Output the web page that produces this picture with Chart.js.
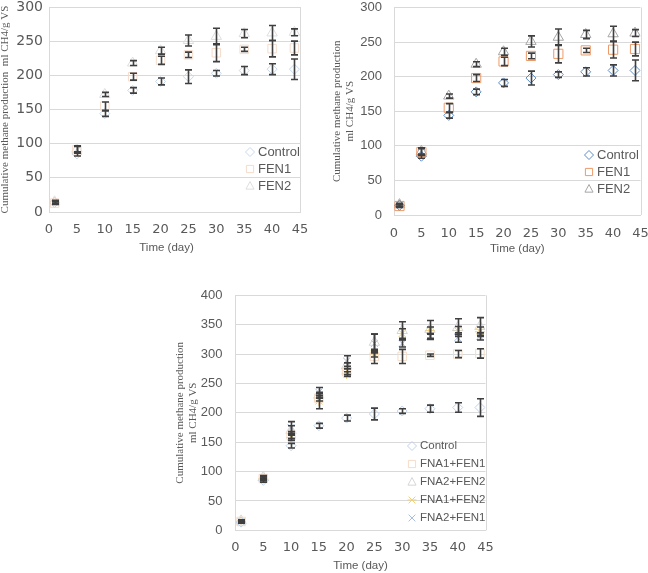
<!DOCTYPE html>
<html><head><meta charset="utf-8">
<script src="https://cdn.jsdelivr.net/npm/chart.js@4.4.0/dist/chart.umd.min.js"></script>
<style>
html,body{margin:0;padding:0;background:#fff;width:648px;height:573px;overflow:hidden;}
canvas{position:absolute;display:block;}
</style></head><body>
<canvas id="c1" width="320" height="262" style="left:0;top:0"></canvas>
<canvas id="c2" width="328" height="262" style="left:320px;top:0"></canvas>
<canvas id="c3" width="330" height="293" style="left:170px;top:280px"></canvas>
<script>
// ---- data ----
const days = [1, 5, 10, 15, 20, 25, 30, 35, 40, 44];
const xTicks = [0, 5, 10, 15, 20, 25, 30, 35, 40, 45];
const yTicksTop = [0, 50, 100, 150, 200, 250, 300];
const yTicksBottom = [0, 50, 100, 150, 200, 250, 300, 350, 400];

const control    = [14, 85, 144, 178, 191, 198, 203, 207, 209, 209];
const controlErr = [2, 3, 4, 4, 5, 10, 4, 6, 8, 15];
const fen1       = [13, 91, 155, 198, 222, 230, 233, 238, 239, 240];
const fen1Err    = [2, 5, 6, 5, 6, 4, 13, 3, 12, 10];
const fen2       = [15, 92, 172, 218, 236, 251, 257, 261, 262, 263];
const fen2Err    = [2, 5, 3, 3.5, 5, 8, 12, 6, 11, 5];

const fna1fen1    = [15, 88, 162, 225, 270, 296, 296, 298, 300, 301];
const fna1fen1Err = [2, 3, 6, 5, 5, 12, 12, 2, 6, 8];
const fna2fen2    = [16, 90, 170, 230, 280, 320, 340, 342, 345, 347];
const fna2fen2Err = [2, 3, 8, 5, 5, 14, 15, 15, 15, 15];
const fna1fen2    = [14, 88, 158, 220, 266, 300, 335, 340, 340, 338];
const fna1fen2Err = [2, 3, 5, 13, 4, 5, 8, 6, 7, 8];
const fna2fen1    = [15, 89, 175, 235, 288, 318, 318, 330, 328, 330];
const fna2fen1Err = [2, 3, 10, 8, 9, 16, 6, 5, 8, 6];

const yTitleOneLine = 'Cumulative methane production  ml CH4/g VS';
const yTitleTwoLines = ['Cumulative methane production', 'ml CH4/g VS'];
const xTitle = 'Time (day)';

// ---- helpers ----
const pts = arr => days.map((d, i) => ({x: d, y: arr[i]}));
function ds(label, arr, err, style, color, r) {
  return {label, data: pts(arr), errors: err, pointStyle: style,
    borderColor: color, backgroundColor: 'rgba(255,255,255,0)', pointRadius: r,
    pointHoverRadius: r, borderWidth: 1, showLine: false};
}

function drawMarker(ctx, style, x, y, r) {
  ctx.beginPath();
  if (style === 'rectRot') {
    ctx.moveTo(x, y - r); ctx.lineTo(x + r, y); ctx.lineTo(x, y + r); ctx.lineTo(x - r, y); ctx.closePath();
  } else if (style === 'rect') {
    const s = r * 0.8; ctx.rect(x - s, y - s, 2 * s, 2 * s);
  } else if (style === 'triangle') {
    ctx.moveTo(x, y - r); ctx.lineTo(x + r * 0.9, y + r * 0.7); ctx.lineTo(x - r * 0.9, y + r * 0.7); ctx.closePath();
  } else if (style === 'crossRot') {
    const s = r * 0.75;
    ctx.moveTo(x - s, y - s); ctx.lineTo(x + s, y + s); ctx.moveTo(x + s, y - s); ctx.lineTo(x - s, y + s);
  } else if (style === 'star') {
    const s = r * 0.75;
    ctx.moveTo(x - s, y - s); ctx.lineTo(x + s, y + s); ctx.moveTo(x + s, y - s); ctx.lineTo(x - s, y + s);
    ctx.moveTo(x - r, y); ctx.lineTo(x + r, y);
  }
  ctx.stroke();
}

const errorBars = {
  id: 'errorBars',
  afterDatasetsDraw(chart) {
    const ctx = chart.ctx, xs = chart.scales.x, ys = chart.scales.y;
    ctx.save();
    ctx.strokeStyle = '#3f3f3f'; ctx.lineWidth = 1.6;
    chart.data.datasets.forEach(d => {
      (d.errors || []).forEach((e, i) => {
        const p = d.data[i];
        const x = Math.round(xs.getPixelForValue(p.x)) + 0.5;
        const y1 = ys.getPixelForValue(p.y + e), y2 = ys.getPixelForValue(p.y - e);
        ctx.beginPath();
        ctx.moveTo(x, y1); ctx.lineTo(x, y2);
        ctx.moveTo(x - 3.5, y1); ctx.lineTo(x + 3.5, y1);
        ctx.moveTo(x - 3.5, y2); ctx.lineTo(x + 3.5, y2);
        ctx.stroke();
      });
    });
    ctx.restore();
  }
};

const frame = {
  id: 'frame',
  beforeDatasetsDraw(chart) {
    const a = chart.chartArea, ctx = chart.ctx;
    ctx.save(); ctx.strokeStyle = '#d9d9d9'; ctx.lineWidth = 1;
    ctx.beginPath();
    const xr = Math.round(a.right) + 0.5;
    ctx.moveTo(xr, a.top); ctx.lineTo(xr, a.bottom);
    ctx.stroke(); ctx.restore();
  }
};

const customLegend = {
  id: 'customLegend',
  afterDraw(chart, args, o) {
    const ctx = chart.ctx;
    ctx.save();
    ctx.font = o.fontSize + 'px "Liberation Sans", Arial, sans-serif';
    ctx.textBaseline = 'middle'; ctx.textAlign = 'left';
    chart.data.datasets.forEach((d, i) => {
      const y = o.y + i * o.gap;
      ctx.strokeStyle = d.borderColor; ctx.lineWidth = 1;
      drawMarker(ctx, d.pointStyle, o.x, y, 4.5);
      ctx.fillStyle = '#595959';
      ctx.fillText(d.label, o.x + 8, y);
    });
    ctx.restore();
  }
};

function makeChart(id, datasets, c) {
  return new Chart(document.getElementById(id), {
    type: 'scatter',
    data: {datasets},
    plugins: [frame, errorBars, customLegend],
    options: {
      responsive: false, animation: false, events: [],
      layout: {padding: {top: c.padTop, right: c.padRight, left: 0, bottom: 0}},
      plugins: {legend: {display: false}, tooltip: {enabled: false},
        customLegend: c.legend},
      scales: {
        x: {
          type: 'linear', min: 0, max: 45,
          afterBuildTicks: s => { s.ticks = xTicks.map(v => ({value: v})); },
          afterFit: s => { s.height = c.xHeight; s.paddingLeft = 0; s.paddingRight = 0; },
          grid: {display: false, drawTicks: false},
          border: {display: true, color: '#d9d9d9'},
          ticks: {padding: c.xTickPad, color: '#595959', maxRotation: 0,
            font: {family: '"DejaVu Sans", sans-serif', size: 13}},
          title: {display: true, text: c.xTitleText, color: '#595959',
            font: {family: '"Liberation Sans", Arial, sans-serif', size: 11.5, lineHeight: 1.2},
            padding: {top: 0, bottom: c.xTitlePad}}
        },
        y: {
          min: 0, max: c.yMax,
          afterBuildTicks: s => { s.ticks = c.yTicks.map(v => ({value: v})); },
          afterFit: s => { s.width = c.yWidth; s.paddingTop = 0; s.paddingBottom = 0; },
          grid: {color: '#d9d9d9', drawTicks: false},
          border: {display: true, color: '#d9d9d9'},
          ticks: {padding: c.yTickPad, color: '#595959',
            font: {family: c.yTickFamily, size: c.yTickSize}},
          title: {display: true, text: c.yTitle, color: '#595959',
            font: {family: '"Liberation Serif", "Times New Roman", serif', size: 11, lineHeight: c.yTitleLH},
            padding: {top: c.yTitlePad, bottom: 0}}
        }
      }
    }
  });
}

// Chart 1 (faint markers)
makeChart('c1', [
  ds('Control', control, controlErr, 'rectRot', '#c7d8ec', 5),
  ds('FEN1', fen1, fen1Err, 'rect', '#f5dccb', 6),
  ds('FEN2', fen2, fen2Err, 'triangle', '#dedede', 6)
], {padTop: 5, padRight: 20, xHeight: 50, yWidth: 49, yMax: 300, yTicks: yTicksTop,
   xTickPad: 10, xTitlePad: 6.8, yTickPad: 6, yTickFamily: '"DejaVu Sans", sans-serif', yTickSize: 14,
   xTitleText: xTitle + '\u00a0\u00a0\u00a0\u00a0\u00a0',
   yTitle: yTitleOneLine, yTitleLH: 1.0, yTitlePad: 0,
   legend: {x: 250, y: 152, gap: 17, fontSize: 13}});

// Chart 2 (coloured markers)
makeChart('c2', [
  ds('Control', control, controlErr, 'rectRot', '#5b8ccb', 5),
  ds('FEN1', fen1, fen1Err, 'rect', '#ee9a68', 6.5),
  ds('FEN2', fen2, fen2Err, 'triangle', '#a6a6a6', 6)
], {padTop: 5, padRight: 6.5, xHeight: 47, yWidth: 74, yMax: 300, yTicks: yTicksTop,
   xTickPad: 10.5, xTitlePad: 5.8, yTickPad: 12, yTickFamily: '"Liberation Sans", Arial, sans-serif', yTickSize: 13,
   xTitleText: xTitle,
   yTitle: yTitleTwoLines, yTitleLH: 1.18, yTitlePad: 10.5,
   legend: {x: 269, y: 155, gap: 17, fontSize: 13}});

// Chart 3
makeChart('c3', [
  ds('Control', control, controlErr, 'rectRot', '#bfd2ea', 5),
  ds('FNA1+FEN1', fna1fen1, fna1fen1Err, 'rect', '#f6dcc6', 6),
  ds('FNA2+FEN2', fna2fen2, fna2fen2Err, 'triangle', '#d6d6d6', 6),
  ds('FNA1+FEN2', fna1fen2, fna1fen2Err, 'star', '#f2cf74', 5),
  ds('FNA2+FEN1', fna2fen1, fna2fen1Err, 'crossRot', '#a9bde0', 5)
], {padTop: 15.3, padRight: 14.5, xHeight: 42.7, yWidth: 65.5, yMax: 400, yTicks: yTicksBottom,
   xTickPad: 10, xTitlePad: 0, yTickPad: 13, yTickFamily: '"Liberation Sans", Arial, sans-serif', yTickSize: 13,
   xTitleText: xTitle,
   yTitle: yTitleTwoLines, yTitleLH: 1.18, yTitlePad: 3.5,
   legend: {x: 242, y: 166, gap: 18, fontSize: 11.5}});
</script>
</body></html>
